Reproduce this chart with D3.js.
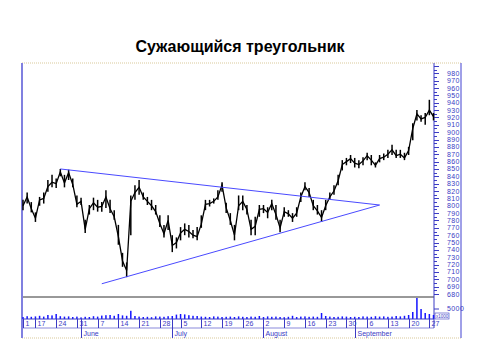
<!DOCTYPE html>
<html>
<head>
<meta charset="utf-8">
<script src="https://cdn.jsdelivr.net/npm/d3@7"></script>
<style>
  body { margin: 0; background: #fff; }
  svg text { font-family: "Liberation Sans", Arial, sans-serif; }
</style>
</head>
<body>
<div class="svg"></div>
<script>
// daily data, first trading day 1999-05-12
var startDay = "1999-05-12";
var closes = [800,812,796,783,808,810,826,832,830,846,
  831,845,829,802,806,768,796,804,798,799,
  812,796,785,758,725,712,806,818,825,812,
  806,800,792,776,762,780,746,750,763,768,
  765,760,758,775,802,803,806,812,828,797,
  780,760,800,806,795,768,772,795,796,791,
  803,788,770,792,789,783,790,812,826,818,
  800,793,784,800,812,820,834,856,860,864,
  858,856,861,868,862,855,864,866,870,876,
  868,870,865,875,905,925,918,920,930,921];
var highs = [808,818,805,791,812,818,835,842,837,850,
  842,849,837,814,811,781,801,811,808,805,
  821,808,794,774,736,723,814,828,835,818,
  812,808,801,787,774,787,760,757,771,776,
  774,767,771,787,808,808,810,821,832,804,
  790,774,814,814,801,781,785,801,801,798,
  808,801,781,798,794,790,798,818,832,824,
  808,801,794,808,818,828,842,862,865,869,
  865,862,866,872,869,859,869,871,876,883,
  876,876,872,880,912,930,923,926,944,926];
var lows = [794,803,791,778,800,803,819,825,824,840,
  825,835,825,798,801,763,788,794,792,792,
  797,790,781,747,717,703,760,808,815,808,
  801,794,788,771,757,767,737,742,753,760,
  757,756,753,770,794,799,803,808,819,790,
  774,753,794,794,788,760,760,785,790,783,
  794,781,764,785,785,778,785,805,821,812,
  794,788,778,794,808,815,828,848,855,858,
  852,851,855,862,855,852,859,862,865,869,
  865,865,862,869,889,916,914,910,923,916];
var volumes = [1000,1400,1100,1300,1600,1200,2000,1800,2500,1400,
  1200,1300,1000,1200,800,1100,1000,1400,1200,1700,
  1900,2000,1600,2500,1800,1600,4100,1500,1200,1000,
  1100,900,1300,1200,1100,1400,1500,2200,2500,2300,
  1900,1600,1500,1200,1100,1000,1300,1200,1000,1100,
  1200,1000,1300,1100,1000,1200,1100,1500,1000,1300,
  1100,1200,1000,900,1100,1600,1000,1200,1300,1100,
  1200,1100,3000,1500,1200,1000,1100,1300,1200,1000,
  1100,1000,1300,1200,1100,1400,1200,1300,1100,1200,
  1500,1300,1600,2000,3500,10500,5000,3000,2500,2000];

var priceTicks = d3.range(680, 990, 10);
var volumeTicks = [5000];
var weekLabels = ["1","17","24","31","7","14","21","28","5","12","19","26",
  "2","9","16","23","30","6","13","20","27"];
var monthLabels = ["June","July","August","September"];

// trend lines (date, price)
var upperTrend = [["1999-05-25", 850], ["1999-09-09", 801]];
var lowerTrend = [["1999-06-08", 694], ["1999-09-09", 801]];

var W = 480, H = 360;
var plotL = 23, plotR = 434, plotT = 63, priceBottom = 297, volBottom = 319,
    dateBottom = 328, outerBottom = 338, outerRight = 461;
var axisBlue = "#3b3bc4";

var parse = d3.utcParse("%Y-%m-%d");
var days = d3.utcDay.range(parse(startDay), d3.utcDay.offset(parse(startDay), 200))
  .filter(function (d) { return d.getUTCDay() !== 0 && d.getUTCDay() !== 6; })
  .slice(0, closes.length);
var dayIndex = function (s) {
  var t = parse(s).getTime();
  return days.findIndex(function (d) { return d.getTime() === t; });
};

var x = d3.scaleLinear().domain([0, days.length - 1]).range([plotL, plotR - 0.5]);
var y = d3.scaleLinear().domain([676, 994]).range([priceBottom, plotT]);
var yv = d3.scaleLinear().domain([0, 11000]).range([volBottom, priceBottom]);

var svg = d3.select("div.svg").append("svg").attr("width", W).attr("height", H);

svg.append("text")
  .attr("x", 240).attr("y", 52)
  .attr("text-anchor", "middle")
  .attr("font-size", "16px").attr("font-weight", "bold")
  .text("Сужающийся треугольник");

// frame
svg.append("line").attr("x1", plotL - 1).attr("x2", outerRight).attr("y1", plotT).attr("y2", plotT)
  .attr("stroke", "#d9c99a").attr("stroke-dasharray", "1,1");
svg.append("line").attr("x1", plotL - 1).attr("x2", outerRight).attr("y1", outerBottom).attr("y2", outerBottom)
  .attr("stroke", "#d9c99a").attr("stroke-dasharray", "1,1");
svg.append("line").attr("x1", plotL - 1).attr("x2", plotL - 1).attr("y1", plotT).attr("y2", outerBottom)
  .attr("stroke", "#8080e0").attr("stroke-width", 2);
svg.append("line").attr("x1", outerRight).attr("x2", outerRight).attr("y1", plotT).attr("y2", outerBottom)
  .attr("stroke", "#8080e0").attr("stroke-width", 1.5);
svg.append("line").attr("x1", plotL).attr("x2", plotR).attr("y1", priceBottom).attr("y2", priceBottom)
  .attr("stroke", "#333");

// right price axis
var yAxis = svg.append("g").attr("transform", "translate(" + plotR + ",0)");
yAxis.append("line").attr("y1", plotT).attr("y2", dateBottom).attr("stroke", axisBlue);
yAxis.selectAll("line.minor").data(d3.range(680, 995, 5)).enter().append("line")
  .attr("class", "minor")
  .attr("x1", 0).attr("x2", function (d) { return d % 10 === 0 ? 5 : 3; })
  .attr("y1", function (d) { return Math.round(y(d)) + 0.5; })
  .attr("y2", function (d) { return Math.round(y(d)) + 0.5; })
  .attr("stroke", axisBlue);
yAxis.selectAll("text").data(priceTicks).enter().append("text")
  .attr("x", 13).attr("y", function (d) { return y(d) + 2.5; })
  .attr("font-size", "7px").attr("fill", axisBlue).attr("letter-spacing", "0.4")
  .text(function (d) { return d; });

// volume axis
svg.selectAll("text.vol").data(volumeTicks).enter().append("text")
  .attr("class", "vol")
  .attr("x", plotR + 13).attr("y", function (d) { return yv(d) + 2; })
  .attr("font-size", "7px").attr("fill", axisBlue).attr("letter-spacing", "0.4")
  .text(function (d) { return d; });
svg.selectAll("line.vol").data(volumeTicks).enter().append("line")
  .attr("class", "vol")
  .attr("x1", plotR).attr("x2", plotR + 5)
  .attr("y1", function (d) { return yv(d); }).attr("y2", function (d) { return yv(d); })
  .attr("stroke", axisBlue);
svg.append("rect").attr("x", plotR + 1).attr("y", 313).attr("width", 14).attr("height", 6)
  .attr("fill", "none").attr("stroke", axisBlue).attr("stroke-width", 0.6);
svg.append("text").attr("x", plotR + 2).attr("y", 318).attr("font-size", "4.5px")
  .attr("fill", axisBlue).text("x1000");

// volume bars
svg.selectAll("rect.vbar").data(volumes).enter().append("rect")
  .attr("class", "vbar")
  .attr("x", function (d, i) { return x(i) - 0.75; })
  .attr("width", 1.5)
  .attr("y", function (d) { return yv(d); })
  .attr("height", function (d) { return volBottom - yv(d); })
  .attr("fill", "#1414ff");

// date axis
svg.append("line").attr("x1", plotL).attr("x2", plotR).attr("y1", volBottom).attr("y2", volBottom)
  .attr("stroke", axisBlue);
svg.append("line").attr("x1", plotL).attr("x2", plotR).attr("y1", dateBottom).attr("y2", dateBottom)
  .attr("stroke", axisBlue).attr("stroke-width", 0.6);
var weekIdx = [0].concat(d3.range(days.length).filter(function (i) { return days[i].getUTCDay() === 1; }));
var wk = svg.selectAll("g.week").data(weekIdx).enter().append("g").attr("class", "week")
  .attr("transform", function (i) { return "translate(" + (Math.round(x(i)) + 0.5) + ",0)"; });
wk.append("line").attr("y1", volBottom).attr("y2", dateBottom).attr("stroke", axisBlue);
wk.append("text").attr("x", 2).attr("y", 326).attr("font-size", "7px").attr("fill", axisBlue)
  .text(function (d, k) { return weekLabels[k]; });

var monthIdx = d3.range(1, days.length).filter(function (i) {
  return days[i].getUTCMonth() !== days[i - 1].getUTCMonth();
});
var mo = svg.selectAll("g.month").data(monthIdx).enter().append("g").attr("class", "month")
  .attr("transform", function (i) { return "translate(" + (Math.round(x(i)) + 0.5) + ",0)"; });
mo.append("line").attr("y1", volBottom).attr("y2", outerBottom).attr("stroke", axisBlue);
mo.append("text").attr("x", 2).attr("y", 336).attr("font-size", "7px").attr("fill", axisBlue)
  .text(function (d, k) { return monthLabels[k]; });

// price: high-low bars and close line
svg.selectAll("line.hl").data(closes).enter().append("line")
  .attr("class", "hl")
  .attr("x1", function (d, i) { return x(i); }).attr("x2", function (d, i) { return x(i); })
  .attr("y1", function (d, i) { return y(highs[i]); })
  .attr("y2", function (d, i) { return y(lows[i]); })
  .attr("stroke", "#000").attr("stroke-width", 1.5);
svg.append("path").datum(closes)
  .attr("d", d3.line().x(function (d, i) { return x(i); }).y(function (d) { return y(d); }))
  .attr("fill", "none").attr("stroke", "#000").attr("stroke-width", 1.3);

// triangle
[upperTrend, lowerTrend].forEach(function (t) {
  svg.append("path").datum(t)
    .attr("d", d3.line().x(function (d) { return x(dayIndex(d[0])); }).y(function (d) { return y(d[1]); }))
    .attr("fill", "none").attr("stroke", "#4a4aff").attr("stroke-width", 1);
});
</script>
</body>
</html>
